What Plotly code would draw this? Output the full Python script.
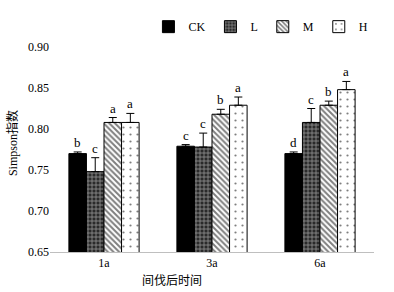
import plotly.graph_objects as go

categories = ["1a", "3a", "6a"]
series_names = ["CK", "L", "M", "H"]
values = {
    "CK": [0.770, 0.779, 0.770],
    "L": [0.748, 0.778, 0.808],
    "M": [0.808, 0.818, 0.829],
    "H": [0.808, 0.829, 0.848],
}
errors = {
    "CK": [0.002, 0.002, 0.002],
    "L": [0.017, 0.017, 0.017],
    "M": [0.006, 0.006, 0.005],
    "H": [0.011, 0.010, 0.010],
}
letters = {
    "CK": ["b", "c", "d"],
    "L": ["c", "c", "c"],
    "M": ["a", "b", "b"],
    "H": ["a", "a", "a"],
}
y_ticks = [0.65, 0.70, 0.75, 0.80, 0.85, 0.90]

SERIF = "Liberation Serif, Times New Roman, Noto Sans CJK SC"
patterns = {
    "CK": dict(shape=""),
    "L": dict(shape="+", fgcolor="white", bgcolor="#2a2a2a", size=4, solidity=0.35),
    "M": dict(shape="\\", fgcolor="black", bgcolor="white", size=4, solidity=0.5),
    "H": dict(shape=".", fgcolor="black", bgcolor="white", size=7, solidity=0.08),
}
colors = {"CK": "black", "L": "#2a2a2a", "M": "white", "H": "white"}

bargap = 0.35
n = len(series_names)
xs = list(range(len(categories)))

fig = go.Figure()
for j, s in enumerate(series_names):
    fig.add_trace(go.Bar(
        name=s, x=xs, y=values[s],
        marker=dict(color=colors[s], pattern=patterns[s],
                    line=dict(color="black", width=1)),
        error_y=dict(type="data", array=errors[s], arrayminus=[0] * len(xs),
                     symmetric=False, color="black", thickness=1, width=4),
    ))
    off = (j - (n - 1) / 2) * (1 - bargap) / n
    for i in xs:
        fig.add_annotation(x=i + off, y=values[s][i] + errors[s][i], text=letters[s][i],
                           showarrow=False, yanchor="bottom", yshift=0,
                           font=dict(family=SERIF, size=13, color="black"))

fig.add_annotation(text="Simpson指数", xref="paper", yref="paper", x=-0.115, y=0.53,
                   textangle=-90, showarrow=False, xanchor="center", yanchor="middle",
                   font=dict(family=SERIF, size=12, color="black"))
fig.add_annotation(text="间伐后时间", xref="paper", yref="paper", x=0.377, y=-0.14,
                   showarrow=False, xanchor="center", yanchor="middle",
                   font=dict(family=SERIF, size=12, color="black"))

fig.update_layout(
    width=394, height=292,
    margin=dict(l=50, r=20, t=37, b=40),
    paper_bgcolor="white", plot_bgcolor="white",
    barmode="group", bargap=bargap, bargroupgap=0,
    showlegend=True,
    legend=dict(orientation="h", x=0.651, xanchor="center", y=1.17, yanchor="top",
                font=dict(family=SERIF, size=12, color="black"),
                itemwidth=30, bgcolor="rgba(0,0,0,0)", tracegroupgap=0),
    xaxis=dict(tickmode="array", tickvals=xs, ticktext=categories,
               range=[-0.5, len(categories) - 0.5], showgrid=False,
               showline=True, linecolor="#bfbfbf", linewidth=1, ticks="",
               tickfont=dict(family=SERIF, size=12, color="black")),
    yaxis=dict(range=[0.65, 0.90], tickmode="array", tickvals=y_ticks,
               ticktext=[f"{v:.2f}" for v in y_ticks], showgrid=False,
               showline=False, zeroline=False, ticks="",
               tickfont=dict(family=SERIF, size=12, color="black")),
)

fig.write_html("out.html")
